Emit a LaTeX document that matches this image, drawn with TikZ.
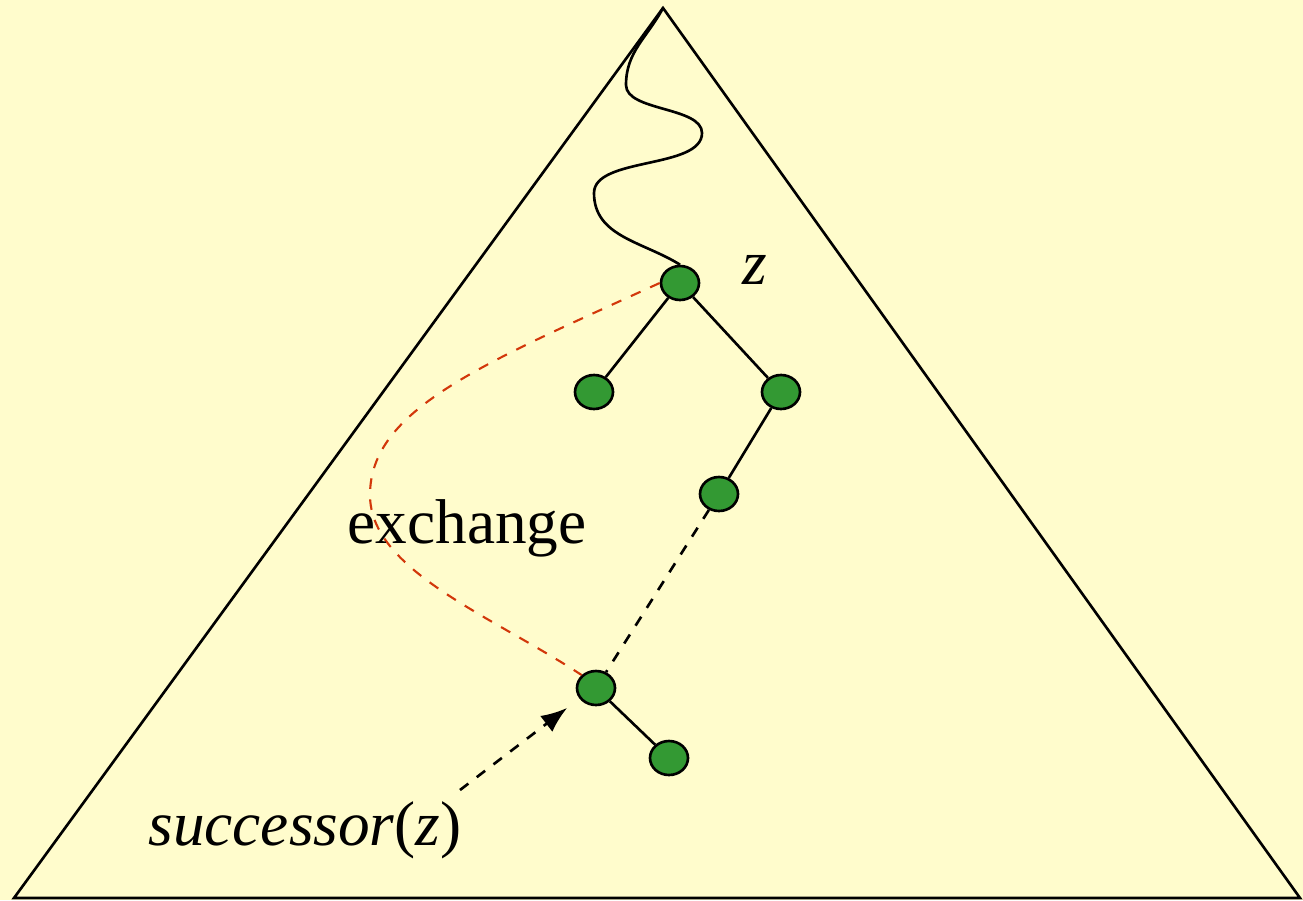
\documentclass[tikz,border=0pt]{standalone}
\usepackage{fontspec}
\setmainfont{Liberation Serif}
\usetikzlibrary{arrows.meta,shapes.geometric}

\begin{document}
\begin{tikzpicture}[line width=0.75pt,
    vtx/.style={ellipse,draw,fill=leaf,minimum width=0.38cm,minimum height=0.34cm,inner sep=0pt},
    lbl/.style={font=\fontsize{18}{20}\selectfont}]
  \colorlet{paper}{yellow!20!white}
  \definecolor{leaf}{RGB}{51,153,51}
  \definecolor{xchred}{RGB}{210,55,10}
  % background, fixes the size
  \fill[paper] (0,0) rectangle (13.03,9);
  \useasboundingbox (0,0) rectangle (13.03,9);
  % the whole tree
  \coordinate (apex) at (6.63,8.92);
  \draw (0.14,0.02) -- (apex) -- (13.0,0.02) -- cycle;
  % nodes
  \node[vtx] (z) at (6.80,6.17) {};
  \node[vtx] (zl) at (5.94,5.08) {};
  \node[vtx] (zr) at (7.81,5.08) {};
  \node[vtx] (zrl) at (7.19,4.06) {};
  \node[vtx] (succ) at (5.96,2.12) {};
  \node[vtx] (succr) at (6.69,1.42) {};
  % path from the root down to z
  \draw (apex) to[out=-118,in=90] (6.26,8.15) to[out=-90,in=90,looseness=0.75] (7.02,7.67)
    to[out=-90,in=90,looseness=0.75] (5.94,7.07) to[out=-90,in=148] (z.north);
  % tree edges
  \draw (z) -- (zl);
  \draw (z) -- (zr);
  \draw (zr) -- (zrl);
  \draw (succ) -- (succr);
  \draw[dashed] (zrl) -- (succ);
  % exchange
  \draw[xchred,dashed,line width=0.6pt] (z.west) .. controls (4.8,5.35) and (3.70,4.9) .. (3.70,4.05)
    .. controls (3.70,3.3) and (4.9,2.85) .. (succ.north west);
  % labels
  \node[lbl] (zname) at (7.55,6.30) {\textit{z}};
  \node[lbl] (xch) at (4.67,3.72) {exchange};
  \node[lbl] (sname) at (3.05,0.70) {\textit{successor}(\textit{z})};
  \coordinate (tail) at (4.60,1.10);
  \coordinate (tip) at (5.67,1.92);
  \draw[dashed,-{Latex[length=2.6mm,width=2mm]}] (tail) -- (tip);
\end{tikzpicture}
\end{document}
